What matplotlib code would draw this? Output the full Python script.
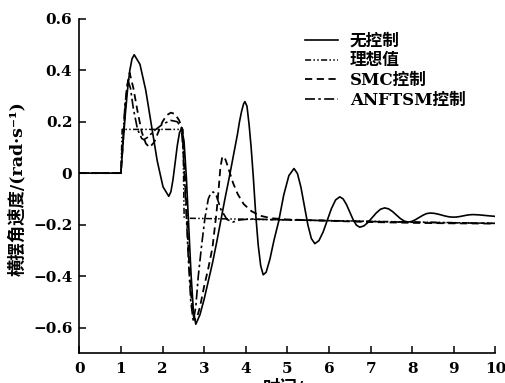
import matplotlib
matplotlib.use("Agg")
import matplotlib.pyplot as plt

plt.rcParams['font.family'] = ['DejaVu Serif', 'Noto Sans CJK SC']
plt.rcParams['font.weight'] = 'bold'
plt.rcParams['axes.unicode_minus'] = True

# 无控制 (no control)
t_free = [0, 1.0, 1.053, 1.107, 1.16, 1.213, 1.267, 1.32,
          1.458, 1.597, 1.735, 1.873, 2.012, 2.15,
          2.202, 2.253, 2.305, 2.357, 2.408, 2.46,
          2.517, 2.573, 2.63, 2.687, 2.743, 2.80,
          2.9, 3.0, 3.1, 3.2, 3.3, 3.4, 3.5, 3.6, 3.7, 3.8, 3.85, 3.9, 3.95, 3.98,
          4.03, 4.08, 4.13, 4.18, 4.24, 4.30, 4.36, 4.42,
          4.49, 4.58, 4.68, 4.79, 4.913, 5.037, 5.16,
          5.243, 5.327, 5.41, 5.493, 5.577, 5.66,
          5.76, 5.86, 5.96, 6.06, 6.16, 6.26,
          6.34, 6.42, 6.50, 6.58, 6.66, 6.74,
          6.84, 6.94, 7.04, 7.14, 7.24, 7.34,
          7.433, 7.527, 7.62, 7.713, 7.807, 7.90,
          7.988, 8.077, 8.165, 8.253, 8.342, 8.43,
          8.523, 8.617, 8.71, 8.803, 8.897, 8.99,
          9.068, 9.147, 9.225, 9.303, 9.382, 9.46,
          9.6, 9.73, 9.86, 10.0]
y_free = [0, 0, 0.119, 0.23, 0.325, 0.398, 0.444, 0.46,
          0.423, 0.3225, 0.185, 0.0475, -0.053, -0.09,
          -0.072, -0.024, 0.0425, 0.109, 0.157, 0.175,
          0.124, -0.0155, -0.206, -0.3965, -0.536, -0.587,
          -0.55, -0.49, -0.42, -0.35, -0.27, -0.185, -0.10, -0.02, 0.065, 0.15, 0.20, 0.24, 0.27, 0.278,
          0.26, 0.19, 0.10, -0.01, -0.16, -0.28, -0.36, -0.395,
          -0.385, -0.335, -0.26, -0.1885, -0.085, -0.0095, 0.018,
          -0.0016, -0.055, -0.128, -0.201, -0.254, -0.274,
          -0.262, -0.2285, -0.183, -0.1375, -0.104, -0.092,
          -0.100, -0.1215, -0.151, -0.1805, -0.202, -0.21,
          -0.205, -0.191, -0.1725, -0.154, -0.14, -0.135,
          -0.1387, -0.149, -0.1625, -0.176, -0.186, -0.19,
          -0.1877, -0.181, -0.1725, -0.164, -0.1573, -0.155,
          -0.156, -0.159, -0.163, -0.167, -0.170, -0.171,
          -0.1703, -0.1685, -0.166, -0.1635, -0.1617, -0.161,
          -0.162, -0.164, -0.166, -0.168]

# 理想值 (ideal)
t_ideal = [0, 1.0, 1.03, 2.49, 2.52, 10.0]
y_ideal = [0, 0, 0.17, 0.17, -0.175, -0.195]

# SMC控制
t_smc = [0, 1.0, 1.05, 1.1, 1.15, 1.21, 1.3, 1.4, 1.5, 1.6, 1.69, 1.8, 1.9, 2.0,
         2.1, 2.2, 2.3, 2.4, 2.47, 2.52, 2.58, 2.64, 2.70, 2.76, 2.82, 2.9, 3.0,
         3.1, 3.2, 3.3, 3.35, 3.39, 3.43, 3.47, 3.52, 3.6, 3.7, 3.81, 3.95, 4.14,
         4.34, 4.6, 5.0, 6.0, 7.0, 8.0, 9.0, 10.0]
y_smc = [0, 0, 0.12, 0.25, 0.34, 0.39, 0.33, 0.24, 0.16, 0.115, 0.10, 0.12, 0.16, 0.20,
         0.225, 0.235, 0.23, 0.205, 0.175, 0.05, -0.15, -0.35, -0.50, -0.57, -0.565, -0.52, -0.44,
         -0.37, -0.29, -0.15, -0.06, 0.02, 0.058, 0.066, 0.05, 0.01, -0.04, -0.082, -0.12, -0.148,
         -0.165, -0.175, -0.18, -0.185, -0.19, -0.193, -0.195, -0.196]

# ANFTSM控制
t_anf = [0, 1.0, 1.05, 1.1, 1.17, 1.23, 1.3, 1.4, 1.5, 1.55, 1.65, 1.8, 2.0, 2.2,
         2.35, 2.45, 2.5, 2.56, 2.62, 2.68, 2.74, 2.8, 2.86, 2.94, 3.02, 3.1, 3.16,
         3.22, 3.3, 3.4, 3.55, 3.69, 3.85, 4.1, 4.5, 5.5, 7.0, 8.5, 10.0]
y_anf = [0, 0, 0.13, 0.27, 0.36, 0.33, 0.25, 0.17, 0.135, 0.13, 0.14, 0.165, 0.19, 0.205,
         0.20, 0.18, 0.08, -0.12, -0.33, -0.50, -0.575, -0.52, -0.40, -0.28, -0.174, -0.10, -0.078,
         -0.073, -0.09, -0.14, -0.18, -0.19, -0.182, -0.178, -0.18, -0.183, -0.188, -0.192, -0.195]

fig = plt.figure(figsize=(5.05, 3.83), dpi=100, facecolor='white')
ax = fig.add_axes([0.157, 0.0775, 0.824, 0.8736])

ax.plot(t_free, y_free, color='black', lw=1.2, label='无控制')
ax.plot(t_ideal, y_ideal, color='black', lw=1.1, linestyle=(0, (4, 1.5, 1, 1.5, 1, 1.5)), label='理想值')
ax.plot(t_smc, y_smc, color='black', lw=1.3, linestyle=(0, (4, 2.5)), label='SMC控制')
ax.plot(t_anf, y_anf, color='black', lw=1.2, linestyle=(0, (6, 2, 1.5, 2)), label='ANFTSM控制')

ax.set_xlim(0, 10)
ax.set_ylim(-0.7, 0.6)
ax.set_xticks(range(0, 11))
ax.set_yticks([-0.6, -0.4, -0.2, 0, 0.2, 0.4, 0.6])
ax.set_yticklabels(['\u22120.6', '\u22120.4', '\u22120.2', '0', '0.2', '0.4', '0.6'])
ax.spines['top'].set_visible(False)
ax.spines['right'].set_visible(False)
for s in ['left', 'bottom']:
    ax.spines[s].set_linewidth(1.2)
ax.tick_params(direction='in', length=5, width=1.1, labelsize=11)
ax.tick_params(axis='x', pad=6)
ax.tick_params(axis='y', pad=5)
for lab in ax.get_xticklabels() + ax.get_yticklabels():
    lab.set_fontweight('bold')

fig.text(17 / 505, 1 - 189 / 383, '横摆角速度/(rad·s\u207b\u00b9)', rotation=90,
         ha='center', va='center', fontsize=12.5, fontweight='bold')
# x label is cut off by the bottom edge in the original figure
fig.text(288 / 505, 1 - 380 / 383, '时间/s', ha='center', va='top',
         fontsize=12.5, fontweight='bold')

ax.legend(loc='upper left', bbox_to_anchor=(305 / 505, 1 - 33 / 383),
          bbox_transform=fig.transFigure, frameon=False,
          handlelength=2.0, handletextpad=0.7, labelspacing=0.15,
          borderpad=0, borderaxespad=0, prop={'weight': 'bold', 'size': 12})

fig.savefig('out.png', dpi=100, facecolor='white')
